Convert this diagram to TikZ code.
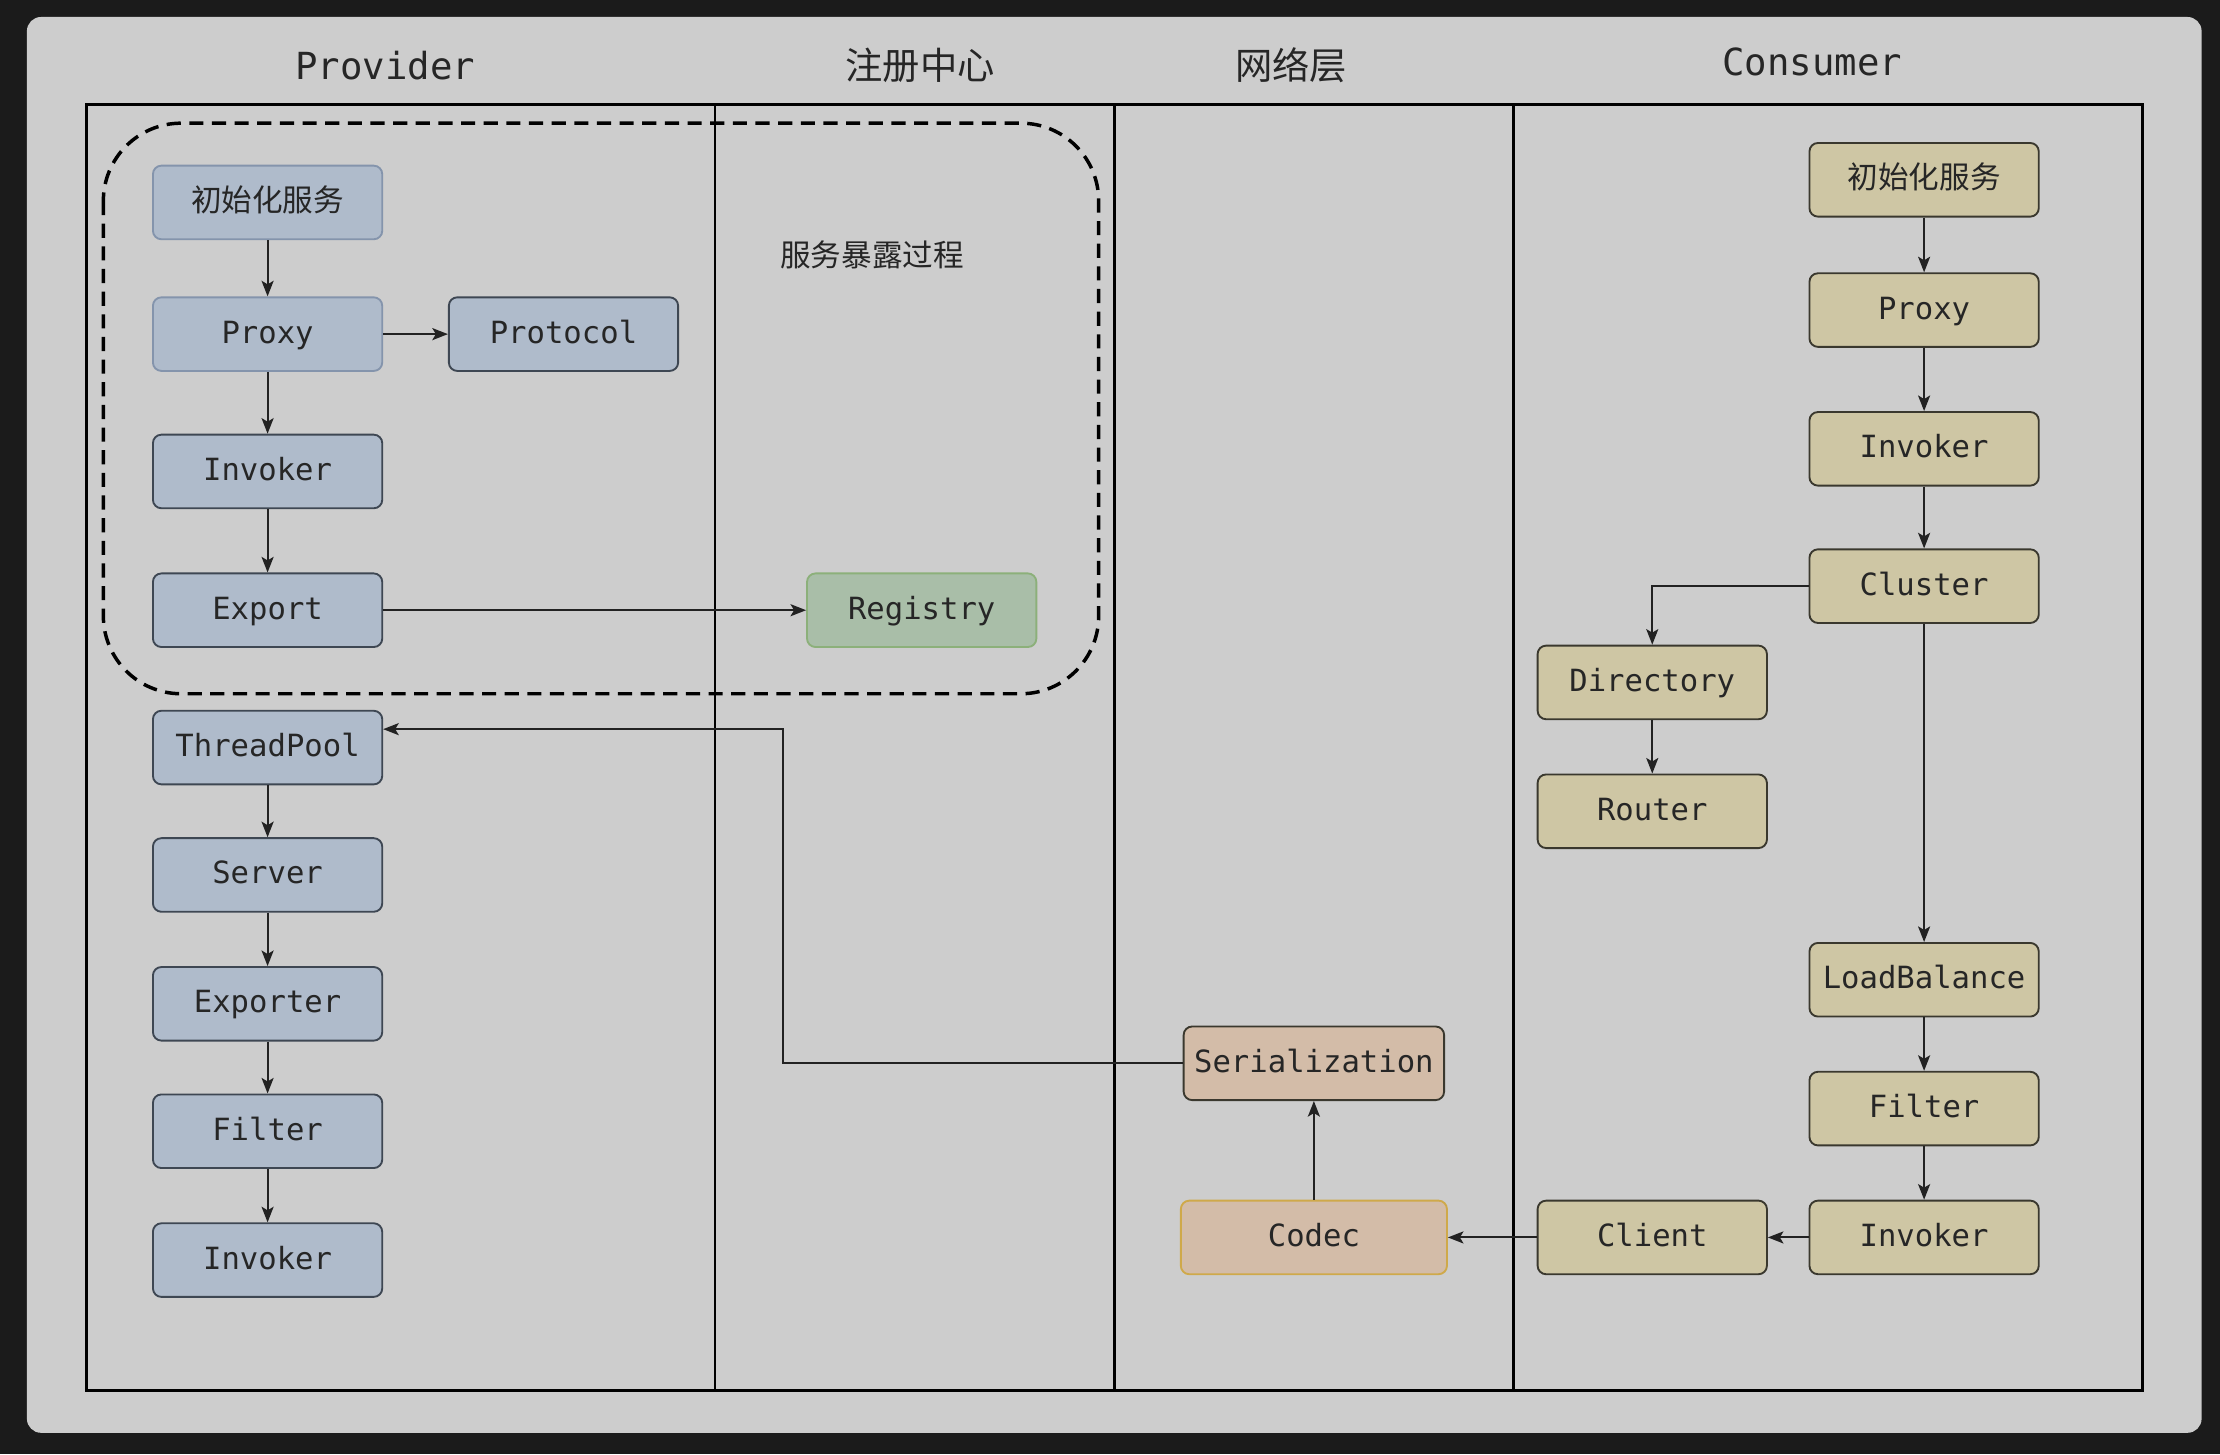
\documentclass[tikz,border=0pt]{standalone}
\usepackage{fontspec}
\setmonofont{DejaVu Sans Mono}
\newfontfamily\cjk{Noto Sans CJK SC}
\usetikzlibrary{arrows.meta}

\definecolor{darkbg}{HTML}{1B1B1B}
\definecolor{panel}{HTML}{CDCDCD}
\definecolor{txt}{HTML}{262626}
\definecolor{line}{HTML}{222222}
\definecolor{pfill}{HTML}{AFBBCB}
\definecolor{pdraw}{HTML}{3E4753}
\definecolor{plight}{HTML}{8494AC}
\definecolor{cfill}{HTML}{CEC6A4}
\definecolor{cdraw}{HTML}{3A382E}
\definecolor{nfill}{HTML}{D3BCA8}
\definecolor{gfill}{HTML}{A9BEA8}
\definecolor{gdraw}{HTML}{8CB07A}
\definecolor{codecdraw}{HTML}{CFA94A}

\tikzset{
  box/.style={draw, rounded corners=0.12cm, minimum width=3.24cm, minimum height=1.04cm,
    line width=0.75pt, inner sep=0pt, text=txt, text height=0.75em, text depth=0.03em,
    font=\ttfamily\fontsize{12.3}{14}\selectfont},
  pbox/.style={box, fill=pfill, draw=pdraw},
  cbox/.style={box, fill=cfill, draw=cdraw},
  nbox/.style={box, fill=nfill, draw=cdraw},
  arr/.style={-{Stealth[length=0.22cm,width=0.17cm,inset=0.05cm]}, line width=0.8pt, draw=line},
  head/.style={text=txt, font=\ttfamily\fontsize{15}{18}\selectfont},
  frame/.style={draw=black, line width=1.1pt}
}

\begin{document}
\begin{tikzpicture}[x=0.02cm,y=-0.02cm]
% background
\fill[darkbg] (0,0) rectangle (1568,1027);
\fill[panel, rounded corners=0.2cm] (19,12) rectangle (1555,1012);

% lanes
\node[head] (hprov) at (272,46) {Provider};
\node[head] (hreg) at (650,46) {\cjk 注册中心};
\node[head] (hnet) at (912,46) {\cjk 网络层};
\node[head] (hcons) at (1280,44) {Consumer};
\draw[frame] (61,74) rectangle (1513,982);
\foreach \x in {505,787,1069} \draw[frame] (\x,74) -- (\x,982);

% export process
\draw[black, line width=1.4pt, dash pattern=on 0.2cm off 0.12cm, rounded corners=1.1cm] (73,87) rectangle (776,490);
\node[text=txt, font=\cjk\fontsize{12.3}{14}\selectfont] (expose) at (616,180) {服务暴露过程};

% provider
\node[pbox, draw=plight] (pinit) at (189,143) {\cjk 初始化服务};
\node[pbox, draw=plight] (pproxy) at (189,236) {Proxy};
\node[pbox] (pprot) at (398,236) {Protocol};
\node[pbox] (pinv) at (189,333) {Invoker};
\node[pbox] (pexp) at (189,431) {Export};
\node[pbox] (ptp) at (189,528) {ThreadPool};
\node[pbox] (psrv) at (189,618) {Server};
\node[pbox] (pexpr) at (189,709) {Exporter};
\node[pbox] (pflt) at (189,799) {Filter};
\node[pbox] (pinv2) at (189,890) {Invoker};

% registry
\node[box, fill=gfill, draw=gdraw] (reg) at (651,431) {Registry};

% network
\node[nbox, minimum width=3.68cm] (ser) at (928,751) {Serialization};
\node[nbox, minimum width=3.76cm, draw=codecdraw] (codec) at (928,874) {Codec};

% consumer
\node[cbox] (cinit) at (1359,127) {\cjk 初始化服务};
\node[cbox] (cproxy) at (1359,219) {Proxy};
\node[cbox] (cinv) at (1359,317) {Invoker};
\node[cbox] (ccl) at (1359,414) {Cluster};
\node[cbox] (cdir) at (1167,482) {Directory};
\node[cbox] (crt) at (1167,573) {Router};
\node[cbox] (clb) at (1359,692) {LoadBalance};
\node[cbox] (cflt) at (1359,783) {Filter};
\node[cbox] (cinv2) at (1359,874) {Invoker};
\node[cbox] (ccli) at (1167,874) {Client};

% connectors
\foreach \a/\b in {pinit/pproxy,pproxy/pinv,pinv/pexp,ptp/psrv,psrv/pexpr,pexpr/pflt,pflt/pinv2,
  cinit/cproxy,cproxy/cinv,cinv/ccl,ccl/clb,clb/cflt,cflt/cinv2,cdir/crt,codec/ser,
  pproxy/pprot,pexp/reg,cinv2/ccli,ccli/codec}
  \draw[arr] (\a) -- (\b);
\draw[arr] (ccl.west) -| (cdir.north);
\coordinate (bend) at (553,515);
\draw[arr] (ser.west) -| (bend) -- (ptp.east |- bend);
\end{tikzpicture}
\end{document}
